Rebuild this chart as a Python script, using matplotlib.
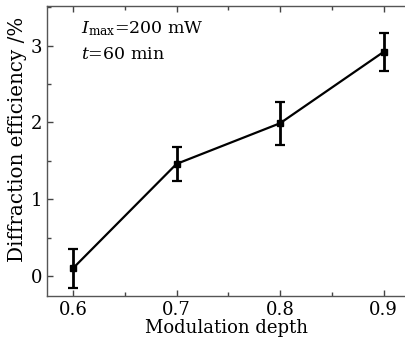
import matplotlib
matplotlib.use('Agg')
import matplotlib.pyplot as plt
from matplotlib.ticker import MultipleLocator

# Values
depth = [0.6, 0.7, 0.8, 0.9]
efficiency = [0.10, 1.46, 1.99, 2.92]
err = [0.25, 0.22, 0.28, 0.25]

plt.rcParams['font.family'] = 'DejaVu Serif'
plt.rcParams['mathtext.fontset'] = 'dejavuserif'

fig = plt.figure(figsize=(4.06, 3.42), dpi=100)
ax = fig.add_axes([0.1158, 0.1345, 0.8842, 0.8465])

ax.errorbar(depth, efficiency, yerr=err, color='black', lw=1.6, elinewidth=2.0,
            capsize=3.5, capthick=1.6, marker='s', ms=4.5)

ax.set_xlim(0.575, 0.9215)
ax.set_ylim(-0.26, 3.51)
ax.xaxis.set_major_locator(MultipleLocator(0.1))
ax.xaxis.set_minor_locator(MultipleLocator(0.05))
ax.yaxis.set_major_locator(MultipleLocator(1))
ax.yaxis.set_minor_locator(MultipleLocator(0.5))
ax.tick_params(which='both', direction='in', top=True, right=False, labelsize=13, colors='#444444')
ax.tick_params(which='major', length=4, width=1)
ax.tick_params(which='minor', length=3, width=1)
for lab in ax.get_xticklabels() + ax.get_yticklabels():
    lab.set_color('black')
for s in ax.spines.values():
    s.set_color('#555555')
    s.set_linewidth(1)
ax.spines['right'].set_visible(False)

ax.set_xlabel('Modulation depth', fontsize=13, labelpad=0)
ax.set_ylabel('Diffraction efficiency /%', fontsize=14.3)
ax.yaxis.set_label_coords(-0.057, 0.54)

ax.text(0.095, 0.955, r'$I_{\rm max}$=200 mW', transform=ax.transAxes, fontsize=12.5, va='top')
ax.text(0.095, 0.865, r'$t$=60 min', transform=ax.transAxes, fontsize=12.5, va='top')

fig.savefig('out.png', dpi=100)
